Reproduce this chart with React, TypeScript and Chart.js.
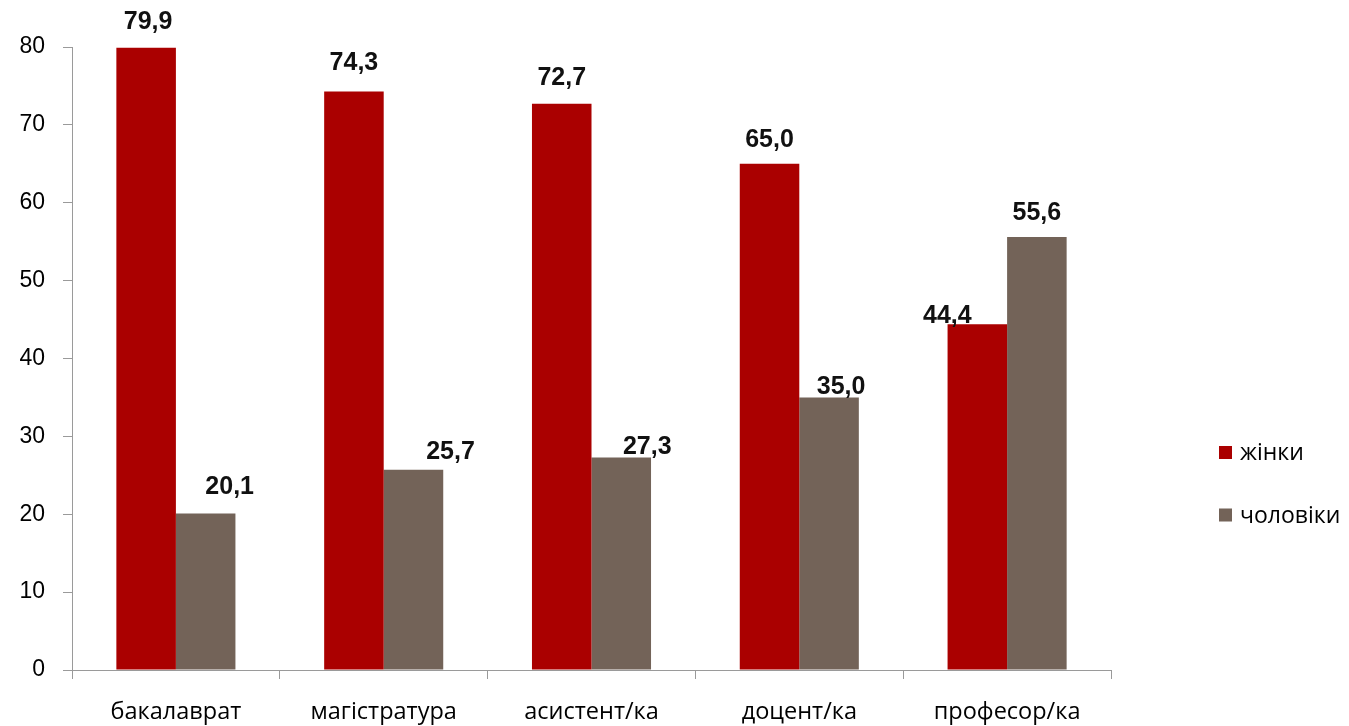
import React, { useEffect, useRef } from "react";
import { Chart, registerables } from "chart.js";

Chart.register(...registerables);

// ---- data ----
const categories = ["бакалаврат", "магістратура", "асистент/ка", "доцент/ка", "професор/ка"];
const seriesNames = ["жінки", "чоловіки"];
const women = [79.9, 74.3, 72.7, 65.0, 44.4];
const men = [20.1, 25.7, 27.3, 35.0, 55.6];
const yMin = 0;
const yMax = 80;
const yStep = 10;

// ---- style ----
const RED = "#AA0000";
const GREY = "#736358";
const AXIS = "#9a9a9a";
// label nudges (dx, gap above bar top) per point, to mimic the reference placement
const labelDx = [
  [2, 0, 0, 0, -30],
  [24, 37, 26, 12, 0],
];
const labelGap = [
  [26, 28, 26, 24, 8],
  [26, 18, 10, 10, 24],
];

const fmt = (v: number) => v.toFixed(1).replace(".", ",");

const valueLabels = {
  id: "valueLabels",
  afterDatasetsDraw(chart: any) {
    const ctx = chart.ctx;
    ctx.save();
    ctx.font = "bold 25px 'Liberation Sans', Arial, sans-serif";
    ctx.fillStyle = "#111";
    ctx.textAlign = "center";
    ctx.textBaseline = "middle";
    chart.data.datasets.forEach((ds: any, di: number) => {
      const meta = chart.getDatasetMeta(di);
      meta.data.forEach((el: any, i: number) => {
        const v = ds.data[i] as number;
        ctx.fillText(fmt(v), el.x + labelDx[di][i], el.y - labelGap[di][i]);
      });
    });
    ctx.restore();
  },
};

const sideLegend = {
  id: "sideLegend",
  afterDraw(chart: any) {
    const ctx = chart.ctx;
    const x = 1219;
    const ys = [452.5, 515];
    ctx.save();
    ctx.font = "23px 'Open Sans', sans-serif";
    ctx.textBaseline = "middle";
    ctx.textAlign = "left";
    chart.data.datasets.forEach((ds: any, di: number) => {
      const y = ys[di];
      ctx.fillStyle = ds.backgroundColor;
      ctx.fillRect(x, y - 6.5, 13, 13);
      ctx.fillStyle = "#000";
      ctx.fillText(ds.label, x + 21, y + 1);
    });
    ctx.restore();
  },
};

export default function App() {
  const ref = useRef<HTMLCanvasElement | null>(null);

  useEffect(() => {
    if (!ref.current) return;
    const chart = new Chart(ref.current, {
      type: "bar",
      data: {
        labels: categories,
        datasets: [
          { label: seriesNames[0], data: women, backgroundColor: RED, borderWidth: 0 },
          { label: seriesNames[1], data: men, backgroundColor: GREY, borderWidth: 0 },
        ],
      },
      options: {
        animation: false,
        responsive: true,
        maintainAspectRatio: false,
        devicePixelRatio: 1,
        layout: { padding: { top: 47, right: 238, left: 0, bottom: 0 } },
        datasets: { bar: { categoryPercentage: 0.573, barPercentage: 1 } },
        plugins: {
          legend: { display: false },
          tooltip: { enabled: false },
        },
        scales: {
          x: {
            offset: true,
            grid: {
              offset: true,
              drawOnChartArea: false,
              drawTicks: true,
              tickLength: 9,
              color: AXIS,
            },
            border: { color: AXIS, width: 1 },
            ticks: {
              color: "#000",
              font: { family: "'Open Sans', sans-serif", size: 23.5 },
              padding: 19,
              maxRotation: 0,
              autoSkip: false,
            },
            afterFit: (s: any) => {
              s.height = 56;
            },
          },
          y: {
            min: yMin,
            max: yMax,
            grid: {
              drawOnChartArea: false,
              drawTicks: true,
              tickLength: 9,
              color: AXIS,
            },
            border: { color: AXIS, width: 1 },
            ticks: {
              stepSize: yStep,
              color: "#000",
              font: { family: "'Liberation Sans', Arial, sans-serif", size: 23 },
              padding: 18,
            },
            afterFit: (s: any) => {
              s.width = 72;
            },
          },
        },
      },
      plugins: [valueLabels, sideLegend],
    });
    return () => chart.destroy();
  }, []);

  return (
    <div style={{ position: "absolute", left: 0, top: 0, width: 1349, height: 726, background: "#fff" }}>
      <canvas ref={ref} />
    </div>
  );
}
